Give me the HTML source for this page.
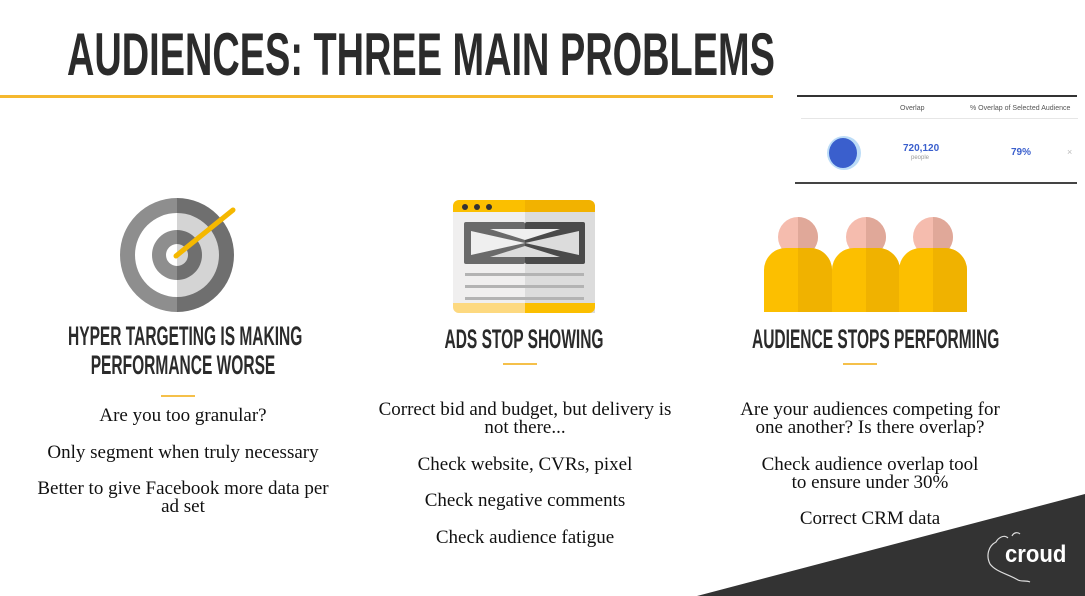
<!DOCTYPE html>
<html><head><style>
body{margin:0;width:1085px;height:596px;position:relative;overflow:hidden;background:#fff;font-family:"Liberation Serif",serif;}
.c{position:absolute;white-space:nowrap;text-align:center;}
.h{font-family:"Liberation Sans",sans-serif;font-weight:bold;color:#2b2b2b;transform:scaleX(0.575);transform-origin:center;}
.t{font-size:19px;color:#111;line-height:18px;text-align:center;position:absolute;}
.t p{margin:0 0 18.5px 0;}
.dash{position:absolute;height:2px;width:34px;background:#f5c04a;}
</style></head><body>
<div class="c h" style="left:67px;top:25px;font-size:60px;line-height:60px;transform:scaleX(0.632);transform-origin:left;text-align:left">AUDIENCES: THREE MAIN PROBLEMS</div>
<div style="position:absolute;left:0;top:95px;width:773px;height:3px;background:#f5b82e"></div>

<div style="position:absolute;left:797px;top:95px;width:280px;height:2px;background:#333"></div>
<div style="position:absolute;left:801px;top:118px;width:277px;height:1px;background:#e6e6e6"></div>
<div class="c" style="left:900px;top:105px;font:7px 'Liberation Sans',sans-serif;color:#555">Overlap</div>
<div class="c" style="left:970px;top:105px;font:7px 'Liberation Sans',sans-serif;color:#555">% Overlap of Selected Audience</div>
<div style="position:absolute;left:827px;top:136px;width:34px;height:34px;border-radius:50%;background:#bcdcf7"></div>
<div style="position:absolute;left:829px;top:138px;width:28px;height:30px;border-radius:50%;background:#3a5fcd"></div>
<div class="c" style="left:903px;top:143px;font:bold 10px 'Liberation Sans',sans-serif;color:#3a5fcd">720,120</div>
<div class="c" style="left:911px;top:155px;font:6px 'Liberation Sans',sans-serif;color:#999">people</div>
<div class="c" style="left:1011px;top:147px;font:bold 10px 'Liberation Sans',sans-serif;color:#3a5fcd">79%</div>
<div class="c" style="left:1067px;top:147px;font:9px 'Liberation Sans',sans-serif;color:#bbb">×</div>
<div style="position:absolute;left:795px;top:182px;width:282px;height:2px;background:#444"></div>

<svg style="position:absolute;left:0;top:0" width="1085" height="596">
<defs><clipPath id="lh"><rect x="0" y="0" width="177" height="596"/></clipPath><clipPath id="rh"><rect x="177" y="0" width="300" height="596"/></clipPath></defs>
<g clip-path="url(#lh)"><circle cx="177" cy="255" r="57" fill="#8e8e8e"/><circle cx="177" cy="255" r="42" fill="#fff"/><circle cx="177" cy="255" r="25" fill="#8e8e8e"/><circle cx="177" cy="255" r="11" fill="#fff"/></g>
<g clip-path="url(#rh)"><circle cx="177" cy="255" r="57" fill="#6f6f6f"/><circle cx="177" cy="255" r="42" fill="#d4d4d4"/><circle cx="177" cy="255" r="25" fill="#6f6f6f"/><circle cx="177" cy="255" r="11" fill="#d4d4d4"/></g>
<line x1="176" y1="256" x2="233" y2="210" stroke="#f5b800" stroke-width="5" stroke-linecap="round"/>

<rect x="453" y="200" width="142" height="113" rx="6" fill="#f0efef"/>
<rect x="525" y="212" width="70" height="101" fill="#dcdcdc"/>
<path d="M459 200h66v12h-72v-6a6 6 0 0 1 6-6z" fill="#fbbf00"/>
<path d="M525 200h64a6 6 0 0 1 6 6v6h-70z" fill="#f2b200"/>
<path d="M453 303h72v10h-66a6 6 0 0 1-6-6z" fill="#fdd980"/>
<path d="M525 303h70v4a6 6 0 0 1-6 6h-64z" fill="#fbbf00"/>
<circle cx="465" cy="207" r="3" fill="#333"/><circle cx="477" cy="207" r="3" fill="#333"/><circle cx="489" cy="207" r="3" fill="#333"/>
<rect x="464" y="222" width="61" height="42" rx="2" fill="#6a6a6a"/>
<rect x="525" y="222" width="60" height="42" rx="2" fill="#4a4a4a"/>
<polygon points="471,231 525,243 471,255" fill="#efefef"/>
<polygon points="579,231 525,243 579,255" fill="#dcdcdc"/>
<polygon points="490,229 560,229 525,240" fill="#efefef"/>
<polygon points="490,257 560,257 525,246" fill="#dcdcdc"/>
<rect x="465" y="273" width="119" height="3" fill="#b3b3b3"/>
<rect x="465" y="285" width="119" height="3" fill="#b3b3b3"/>
<rect x="465" y="297" width="119" height="3" fill="#b3b3b3"/>

<g>
<circle cx="798" cy="237" r="20" fill="#f5bcae"/><path d="M798 217a20 20 0 0 1 0 40z" fill="#e0a899"/>
<circle cx="866" cy="237" r="20" fill="#f5bcae"/><path d="M866 217a20 20 0 0 1 0 40z" fill="#e0a899"/>
<circle cx="933" cy="237" r="20" fill="#f5bcae"/><path d="M933 217a20 20 0 0 1 0 40z" fill="#e0a899"/>
<path d="M764 312v-42a22 22 0 0 1 22-22h24a22 22 0 0 1 22 22v42z" fill="#fcbf00"/>
<path d="M798 248h12a22 22 0 0 1 22 22v42h-34z" fill="#f0b200"/>
<path d="M832 312v-42a22 22 0 0 1 22-22h24a22 22 0 0 1 22 22v42z" fill="#fcbf00"/>
<path d="M866 248h12a22 22 0 0 1 22 22v42h-34z" fill="#f0b200"/>
<path d="M899 312v-42a22 22 0 0 1 22-22h24a22 22 0 0 1 22 22v42z" fill="#fcbf00"/>
<path d="M933 248h12a22 22 0 0 1 22 22v42h-34z" fill="#f0b200"/>
</g>
<polygon points="697,596 1085,494 1085,596" fill="#333"/>
<path d="M1008 538c-4-4-10 0-12 4-8 4-10 14-6 22 6 8 18 10 28 16 4 2 8 0 12 2M1012 536c2-4 6-4 8-2" stroke="#ddd" stroke-width="1.2" fill="none"/>
</svg>
<div class="c" style="left:1005px;top:541px;font:bold 24px 'Liberation Sans',sans-serif;color:#fff;transform:scaleX(0.92);transform-origin:left">croud</div>

<div class="c h" style="left:-17px;width:400px;top:322px;font-size:27px;line-height:29px;">HYPER TARGETING IS MAKING<br>PERFORMANCE WORSE</div>
<div class="dash" style="left:161px;top:395px"></div>
<div class="c h" style="left:324px;width:400px;top:325px;font-size:27px;line-height:29px;">ADS STOP SHOWING</div>
<div class="dash" style="left:503px;top:363px"></div>
<div class="c h" style="left:667px;width:400px;top:325px;font-size:27px;line-height:29px;">AUDIENCE STOPS PERFORMING</div>
<div class="dash" style="left:843px;top:363px"></div>

<div class="t" style="left:8px;width:350px;top:407px"><p>Are you too granular?</p><p>Only segment when truly necessary</p><p>Better to give Facebook more data per<br>ad set</p></div>
<div class="t" style="left:345px;width:360px;top:401px"><p>Correct bid and budget, but delivery is<br>not there...</p><p>Check website, CVRs, pixel</p><p>Check negative comments</p><p>Check audience fatigue</p></div>
<div class="t" style="left:690px;width:360px;top:401px"><p>Are your audiences competing for<br>one another? Is there overlap?</p><p>Check audience overlap tool<br>to ensure under 30%</p><p>Correct CRM data</p></div>
</body></html>
